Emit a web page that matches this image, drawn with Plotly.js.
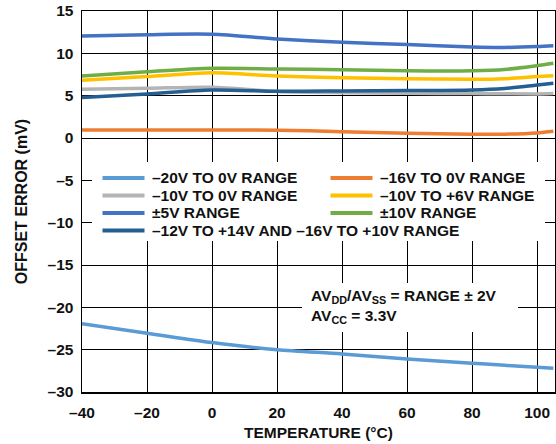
<!DOCTYPE html>
<html><head><meta charset="utf-8">
<script src="https://cdn.plot.ly/plotly-3.0.1.min.js"></script>
<style>html,body{margin:0;padding:0;background:#fff}#c{width:556px;height:444px}</style>
</head><body><div id="c"></div>
<script>
const temps = [-40, -20, 0, 20, 40, 60, 80, 90, 100, 105];
const range20to0 = [-21.95, -23.05, -24.16, -25.0, -25.5, -26.1, -26.6, -26.85, -27.07, -27.2];
const range16to0 = [0.95, 0.95, 0.95, 0.92, 0.75, 0.56, 0.44, 0.45, 0.6, 0.8];
const range10to0 = [5.75, 5.87, 6.0, 5.5, 5.35, 5.28, 5.25, 5.22, 5.2, 5.25];
const range10to6 = [6.82, 7.25, 7.7, 7.33, 7.13, 7.0, 6.93, 7.0, 7.25, 7.36];
const rangePM5 = [12.05, 12.2, 12.25, 11.7, 11.3, 11.05, 10.75, 10.7, 10.8, 10.9];
const rangePM10 = [7.33, 7.83, 8.23, 8.15, 8.07, 7.95, 7.95, 8.1, 8.55, 8.83];
const range12to14 = [4.77, 5.2, 5.67, 5.52, 5.55, 5.6, 5.67, 5.85, 6.26, 6.46];
const seriesNames = ["–20V TO 0V RANGE", "–16V TO 0V RANGE", "–10V TO 0V RANGE", "–10V TO +6V RANGE",
  "±5V RANGE", "±10V RANGE", "–12V TO +14V AND –16V TO +10V RANGE"];
const seriesColors = ["#5B9BD5", "#ED7D31", "#B4B4B4", "#FFC000", "#4472C4", "#70AD47", "#255E91"];
const xTickVals = [-40, -20, 0, 20, 40, 60, 80, 100];
const xTickText = ["–40", "–20", "0", "20", "40", "60", "80", "100"];
const yTickVals = [15, 10, 5, 0, -5, -10, -15, -20, -25, -30];
const yTickText = ["15", "10", "5", "0", "–5", "–10", "–15", "–20", "–25", "–30"];

const allSeries = [range20to0, range16to0, range10to0, range10to6, rangePM5, rangePM10, range12to14];
const drawOrder = [0, 1, 2, 6, 3, 5, 4];

const F = "Arial, 'Liberation Sans', sans-serif";
const traces = drawOrder.map(i => ({
  x: temps, y: allSeries[i], type: "scatter", mode: "lines", name: seriesNames[i],
  line: {color: seriesColors[i], width: 3.5, shape: "spline", smoothing: 0.8},
  showlegend: false, hoverinfo: "skip"
}));

// pixel helpers for layout placement (plot area: l=82, r=555, t=11, b=392)
const X0 = -40, X1 = 105.5, Y0 = -30, Y1 = 15;
const L = 82, R = 555, T = 11, B = 392;
const px2x = p => X0 + (p - L) / (R - L) * (X1 - X0);
const py2y = p => Y1 - (p - T) / (B - T) * (Y1 - Y0);

const shapes = [
  {type: "rect", xref: "x", yref: "y", x0: px2x(92), x1: px2x(545), y0: py2y(162), y1: py2y(241),
   fillcolor: "#fff", line: {width: 0}, layer: "above"},
  {type: "rect", xref: "x", yref: "y", x0: px2x(302), x1: px2x(518), y0: py2y(283), y1: py2y(332),
   fillcolor: "#fff", line: {width: 0}, layer: "above"}
];
const annotations = [];
// manual legend: [seriesIndex, col, row]
const legendPos = [[0,0,0],[1,1,0],[2,0,1],[3,1,1],[4,0,2],[5,1,2],[6,0,3]];
const colX = [[102.5, 144.5, 150], [330.5, 372.5, 378]];
const rowY = [178, 195.5, 213, 230.5];
legendPos.forEach(([i, c, r]) => {
  shapes.push({type: "line", xref: "x", yref: "y", x0: px2x(colX[c][0]), x1: px2x(colX[c][1]),
    y0: py2y(rowY[r]), y1: py2y(rowY[r]), line: {color: seriesColors[i], width: 4}, layer: "above"});
  annotations.push({xref: "x", yref: "y", x: px2x(colX[c][2]), y: py2y(rowY[r] - 0.5), xanchor: "left", yanchor: "middle",
    text: "<b>" + seriesNames[i] + "</b>", showarrow: false, font: {family: F, size: 15.5, color: "#111"}});
});
annotations.push({xref: "x", yref: "y", x: px2x(309), y: py2y(285), xanchor: "left", yanchor: "top", align: "left",
  text: "<b>AV<sub>DD</sub>/AV<sub>SS</sub> = RANGE ± 2V<br>AV<sub>CC</sub> = 3.3V</b>", showarrow: false,
  font: {family: F, size: 15.5, color: "#111"}});

const layout = {
  width: 556, height: 444,
  margin: {l: 82, r: 1, t: 11, b: 52},
  paper_bgcolor: "#fff", plot_bgcolor: "#fff",
  showlegend: false,
  xaxis: {range: [X0, X1], tickvals: xTickVals, ticktext: xTickText, showgrid: true, gridcolor: "#000", gridwidth: 1,
    zeroline: false, showline: true, linecolor: "#000", linewidth: 1.5, mirror: true, ticks: "outside", ticklen: 6, tickcolor: "rgba(0,0,0,0)",
    tickfont: {family: F, size: 15.5, color: "#111", weight: "bold"},
    title: {text: "<b>TEMPERATURE (°C)</b>", font: {family: F, size: 15.5, color: "#111"}, standoff: 7}},
  yaxis: {range: [Y0, Y1], tickvals: yTickVals, ticktext: yTickText, showgrid: true, gridcolor: "#000", gridwidth: 1,
    zeroline: false, showline: true, linecolor: "#000", linewidth: 1.5, mirror: true, ticks: "outside", ticklen: 4, tickcolor: "rgba(0,0,0,0)",
    tickfont: {family: F, size: 15.5, color: "#111", weight: "bold"},
    title: {text: "<b>OFFSET ERROR (mV)</b>", font: {family: F, size: 16, color: "#111"}, standoff: 16}},
  shapes: shapes, annotations: annotations
};
Plotly.newPlot("c", traces, layout, {staticPlot: true});
</script></body></html>
